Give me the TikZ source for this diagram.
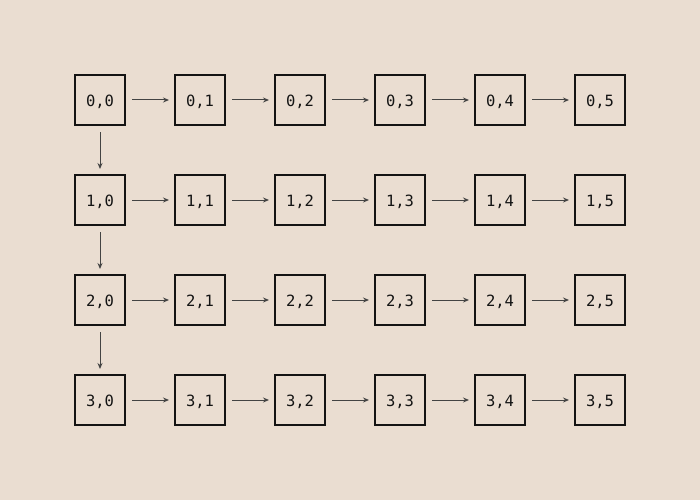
\documentclass[tikz,border=0pt]{standalone}
\usepackage{fontspec}
\newfontfamily\monof{DejaVu Sans Mono}
\usetikzlibrary{arrows.meta}
\definecolor{bg}{RGB}{234,221,209}
\definecolor{ink}{RGB}{20,20,20}
\begin{document}
\begin{tikzpicture}[x=1pt,y=-1pt,
  cell/.style={draw=ink,line width=2pt,minimum size=50pt,inner sep=0pt,
    font=\monof\fontsize{15.5}{15.5}\selectfont,text=ink},
  link/.style={draw=ink!80,line width=1pt,-{Stealth[length=6pt,width=5pt]},
    shorten <=6pt,shorten >=5pt}]
\fill[bg] (0,0) rectangle (700,500);
\useasboundingbox (0,0) rectangle (700,500);
\foreach \r in {0,...,3}{
  \foreach \c in {0,...,5}{
    \node[cell] (n\r\c) at ({100+100*\c},{100+100*\r}) {\raisebox{-1.5pt}[\height][\depth]{\r,\c}};
  }
}
\foreach \r in {0,...,3}{
  \foreach \c/\d in {0/1,1/2,2/3,3/4,4/5}{
    \draw[link] (n\r\c) -- (n\r\d);
  }
}
\foreach \r/\s in {0/1,1/2,2/3}{
  \draw[link] (n\r0) -- (n\s0);
}
\end{tikzpicture}
\end{document}
